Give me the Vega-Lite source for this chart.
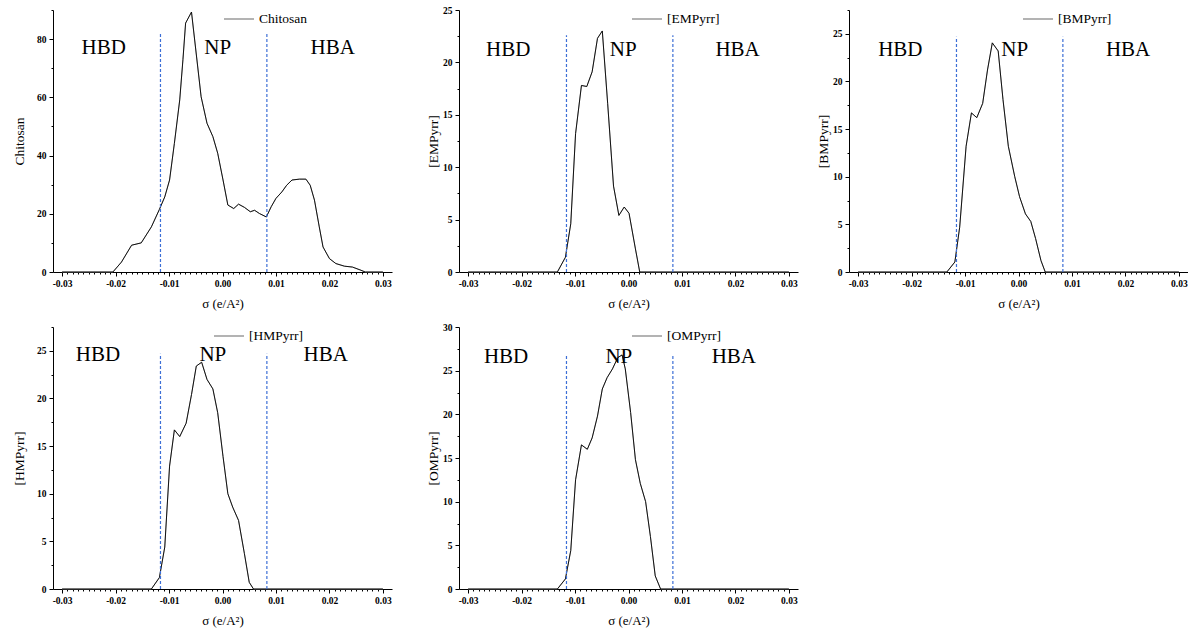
{
  "$schema": "https://vega.github.io/schema/vega-lite/v6.json",
  "padding": {"left": 12, "top": 3, "right": 0, "bottom": 0},
  "datasets": {
    "profiles": [
      {"series": "Chitosan", "sigma": -0.03, "value": 0},
      {"series": "Chitosan", "sigma": -0.0205, "value": 0},
      {"series": "Chitosan", "sigma": -0.0189, "value": 3.4},
      {"series": "Chitosan", "sigma": -0.017, "value": 9.2},
      {"series": "Chitosan", "sigma": -0.0152, "value": 10.0},
      {"series": "Chitosan", "sigma": -0.0133, "value": 15.5},
      {"series": "Chitosan", "sigma": -0.0118, "value": 21.5},
      {"series": "Chitosan", "sigma": -0.0108, "value": 25.8},
      {"series": "Chitosan", "sigma": -0.0099, "value": 31.6},
      {"series": "Chitosan", "sigma": -0.009, "value": 44.2},
      {"series": "Chitosan", "sigma": -0.008, "value": 59.1},
      {"series": "Chitosan", "sigma": -0.0074, "value": 72.9},
      {"series": "Chitosan", "sigma": -0.0069, "value": 85.5},
      {"series": "Chitosan", "sigma": -0.0058, "value": 89.3},
      {"series": "Chitosan", "sigma": -0.004, "value": 60.2},
      {"series": "Chitosan", "sigma": -0.0029, "value": 51.1},
      {"series": "Chitosan", "sigma": -0.0018, "value": 46.5},
      {"series": "Chitosan", "sigma": -0.0009, "value": 40.8},
      {"series": "Chitosan", "sigma": 0.0001, "value": 31.6},
      {"series": "Chitosan", "sigma": 0.001, "value": 23.0},
      {"series": "Chitosan", "sigma": 0.0021, "value": 21.8},
      {"series": "Chitosan", "sigma": 0.003, "value": 23.3},
      {"series": "Chitosan", "sigma": 0.0041, "value": 22.2},
      {"series": "Chitosan", "sigma": 0.0052, "value": 20.7},
      {"series": "Chitosan", "sigma": 0.006, "value": 21.2},
      {"series": "Chitosan", "sigma": 0.0069, "value": 20.1},
      {"series": "Chitosan", "sigma": 0.0082, "value": 18.9},
      {"series": "Chitosan", "sigma": 0.0091, "value": 22.4},
      {"series": "Chitosan", "sigma": 0.01, "value": 25.3},
      {"series": "Chitosan", "sigma": 0.0111, "value": 27.5},
      {"series": "Chitosan", "sigma": 0.012, "value": 29.8},
      {"series": "Chitosan", "sigma": 0.013, "value": 31.6},
      {"series": "Chitosan", "sigma": 0.0144, "value": 31.9},
      {"series": "Chitosan", "sigma": 0.0156, "value": 31.9},
      {"series": "Chitosan", "sigma": 0.0164, "value": 29.8},
      {"series": "Chitosan", "sigma": 0.0172, "value": 24.7},
      {"series": "Chitosan", "sigma": 0.0181, "value": 15.5},
      {"series": "Chitosan", "sigma": 0.0188, "value": 8.6},
      {"series": "Chitosan", "sigma": 0.02, "value": 4.6},
      {"series": "Chitosan", "sigma": 0.0212, "value": 2.9},
      {"series": "Chitosan", "sigma": 0.0228, "value": 2.0},
      {"series": "Chitosan", "sigma": 0.0243, "value": 1.7},
      {"series": "Chitosan", "sigma": 0.0259, "value": 0.6},
      {"series": "Chitosan", "sigma": 0.0267, "value": 0},
      {"series": "Chitosan", "sigma": 0.03, "value": 0},

      {"series": "[EMPyrr]", "sigma": -0.03, "value": 0},
      {"series": "[EMPyrr]", "sigma": -0.0133, "value": 0},
      {"series": "[EMPyrr]", "sigma": -0.0118, "value": 1.4},
      {"series": "[EMPyrr]", "sigma": -0.0108, "value": 4.6},
      {"series": "[EMPyrr]", "sigma": -0.0099, "value": 13.2},
      {"series": "[EMPyrr]", "sigma": -0.0088, "value": 17.8},
      {"series": "[EMPyrr]", "sigma": -0.0078, "value": 17.7},
      {"series": "[EMPyrr]", "sigma": -0.0068, "value": 19.1},
      {"series": "[EMPyrr]", "sigma": -0.0058, "value": 22.3},
      {"series": "[EMPyrr]", "sigma": -0.0049, "value": 23.0},
      {"series": "[EMPyrr]", "sigma": -0.0039, "value": 16.1},
      {"series": "[EMPyrr]", "sigma": -0.0028, "value": 8.2},
      {"series": "[EMPyrr]", "sigma": -0.0018, "value": 5.4},
      {"series": "[EMPyrr]", "sigma": -0.0008, "value": 6.2},
      {"series": "[EMPyrr]", "sigma": 0.0001, "value": 5.6},
      {"series": "[EMPyrr]", "sigma": 0.0013, "value": 2.2},
      {"series": "[EMPyrr]", "sigma": 0.0021, "value": 0},
      {"series": "[EMPyrr]", "sigma": 0.03, "value": 0},

      {"series": "[BMPyrr]", "sigma": -0.03, "value": 0},
      {"series": "[BMPyrr]", "sigma": -0.0134, "value": 0},
      {"series": "[BMPyrr]", "sigma": -0.0119, "value": 1.05},
      {"series": "[BMPyrr]", "sigma": -0.011, "value": 4.7},
      {"series": "[BMPyrr]", "sigma": -0.0098, "value": 13.2},
      {"series": "[BMPyrr]", "sigma": -0.0088, "value": 16.7},
      {"series": "[BMPyrr]", "sigma": -0.0078, "value": 16.2},
      {"series": "[BMPyrr]", "sigma": -0.0067, "value": 17.7},
      {"series": "[BMPyrr]", "sigma": -0.0058, "value": 21.2},
      {"series": "[BMPyrr]", "sigma": -0.0049, "value": 24.05},
      {"series": "[BMPyrr]", "sigma": -0.0038, "value": 23.2},
      {"series": "[BMPyrr]", "sigma": -0.0029, "value": 18.1},
      {"series": "[BMPyrr]", "sigma": -0.0019, "value": 13.2},
      {"series": "[BMPyrr]", "sigma": -0.0007, "value": 10.0},
      {"series": "[BMPyrr]", "sigma": 0.0002, "value": 7.9},
      {"series": "[BMPyrr]", "sigma": 0.0013, "value": 6.1},
      {"series": "[BMPyrr]", "sigma": 0.0023, "value": 5.3},
      {"series": "[BMPyrr]", "sigma": 0.0032, "value": 3.5},
      {"series": "[BMPyrr]", "sigma": 0.0042, "value": 1.2},
      {"series": "[BMPyrr]", "sigma": 0.005, "value": 0},
      {"series": "[BMPyrr]", "sigma": 0.03, "value": 0},

      {"series": "[HMPyrr]", "sigma": -0.03, "value": 0},
      {"series": "[HMPyrr]", "sigma": -0.0133, "value": 0},
      {"series": "[HMPyrr]", "sigma": -0.0118, "value": 1.2},
      {"series": "[HMPyrr]", "sigma": -0.0108, "value": 4.4},
      {"series": "[HMPyrr]", "sigma": -0.0099, "value": 12.9},
      {"series": "[HMPyrr]", "sigma": -0.009, "value": 16.7},
      {"series": "[HMPyrr]", "sigma": -0.008, "value": 16.0},
      {"series": "[HMPyrr]", "sigma": -0.0068, "value": 17.4},
      {"series": "[HMPyrr]", "sigma": -0.0058, "value": 20.4},
      {"series": "[HMPyrr]", "sigma": -0.0049, "value": 23.4},
      {"series": "[HMPyrr]", "sigma": -0.0039, "value": 23.8},
      {"series": "[HMPyrr]", "sigma": -0.0029, "value": 22.0},
      {"series": "[HMPyrr]", "sigma": -0.0018, "value": 21.0},
      {"series": "[HMPyrr]", "sigma": -0.0009, "value": 18.5},
      {"series": "[HMPyrr]", "sigma": 0.0001, "value": 13.9},
      {"series": "[HMPyrr]", "sigma": 0.001, "value": 10.0},
      {"series": "[HMPyrr]", "sigma": 0.0019, "value": 8.6},
      {"series": "[HMPyrr]", "sigma": 0.003, "value": 7.2},
      {"series": "[HMPyrr]", "sigma": 0.0041, "value": 3.7},
      {"series": "[HMPyrr]", "sigma": 0.005, "value": 0.7},
      {"series": "[HMPyrr]", "sigma": 0.0058, "value": 0},
      {"series": "[HMPyrr]", "sigma": 0.03, "value": 0},

      {"series": "[OMPyrr]", "sigma": -0.03, "value": 0},
      {"series": "[OMPyrr]", "sigma": -0.0133, "value": 0},
      {"series": "[OMPyrr]", "sigma": -0.0118, "value": 1.15},
      {"series": "[OMPyrr]", "sigma": -0.0108, "value": 4.4},
      {"series": "[OMPyrr]", "sigma": -0.0099, "value": 12.5},
      {"series": "[OMPyrr]", "sigma": -0.0088, "value": 16.5},
      {"series": "[OMPyrr]", "sigma": -0.0077, "value": 16.0},
      {"series": "[OMPyrr]", "sigma": -0.0068, "value": 17.3},
      {"series": "[OMPyrr]", "sigma": -0.0058, "value": 19.8},
      {"series": "[OMPyrr]", "sigma": -0.0049, "value": 22.9},
      {"series": "[OMPyrr]", "sigma": -0.004, "value": 24.2},
      {"series": "[OMPyrr]", "sigma": -0.003, "value": 25.2},
      {"series": "[OMPyrr]", "sigma": -0.002, "value": 26.5},
      {"series": "[OMPyrr]", "sigma": -0.0012, "value": 26.8},
      {"series": "[OMPyrr]", "sigma": -0.0006, "value": 25.2},
      {"series": "[OMPyrr]", "sigma": 0.0004, "value": 20.2},
      {"series": "[OMPyrr]", "sigma": 0.0013, "value": 14.8},
      {"series": "[OMPyrr]", "sigma": 0.0022, "value": 12.1},
      {"series": "[OMPyrr]", "sigma": 0.0032, "value": 10.0},
      {"series": "[OMPyrr]", "sigma": 0.0041, "value": 6.0},
      {"series": "[OMPyrr]", "sigma": 0.005, "value": 1.5},
      {"series": "[OMPyrr]", "sigma": 0.006, "value": 0},
      {"series": "[OMPyrr]", "sigma": 0.03, "value": 0}
    ],
    "cutoffs": [
      {"series": "Chitosan", "sigma": -0.0116, "bottom": 0, "top": 81.8},
      {"series": "Chitosan", "sigma": 0.0083, "bottom": 0, "top": 81.8},
      {"series": "[EMPyrr]", "sigma": -0.0116, "bottom": 0, "top": 22.6},
      {"series": "[EMPyrr]", "sigma": 0.0083, "bottom": 0, "top": 22.6},
      {"series": "[BMPyrr]", "sigma": -0.0116, "bottom": 0, "top": 24.7},
      {"series": "[BMPyrr]", "sigma": 0.0083, "bottom": 0, "top": 24.7},
      {"series": "[HMPyrr]", "sigma": -0.0116, "bottom": 0, "top": 24.7},
      {"series": "[HMPyrr]", "sigma": 0.0083, "bottom": 0, "top": 24.7},
      {"series": "[OMPyrr]", "sigma": -0.0116, "bottom": 0, "top": 26.9},
      {"series": "[OMPyrr]", "sigma": 0.0083, "bottom": 0, "top": 26.9}
    ],
    "regions": [
      {"series": "Chitosan", "label": "HBD", "sigma": -0.0222, "y": 76.9},
      {"series": "Chitosan", "label": "NP", "sigma": -0.0009, "y": 76.9},
      {"series": "Chitosan", "label": "HBA", "sigma": 0.0206, "y": 76.9},
      {"series": "[EMPyrr]", "label": "HBD", "sigma": -0.0225, "y": 21.2},
      {"series": "[EMPyrr]", "label": "NP", "sigma": -0.001, "y": 21.2},
      {"series": "[EMPyrr]", "label": "HBA", "sigma": 0.0204, "y": 21.2},
      {"series": "[BMPyrr]", "label": "HBD", "sigma": -0.0221, "y": 23.3},
      {"series": "[BMPyrr]", "label": "NP", "sigma": -0.0007, "y": 23.3},
      {"series": "[BMPyrr]", "label": "HBA", "sigma": 0.0205, "y": 23.3},
      {"series": "[HMPyrr]", "label": "HBD", "sigma": -0.0233, "y": 24.6},
      {"series": "[HMPyrr]", "label": "NP", "sigma": -0.0018, "y": 24.6},
      {"series": "[HMPyrr]", "label": "HBA", "sigma": 0.0193, "y": 24.6},
      {"series": "[OMPyrr]", "label": "HBD", "sigma": -0.0229, "y": 26.6},
      {"series": "[OMPyrr]", "label": "NP", "sigma": -0.0018, "y": 26.6},
      {"series": "[OMPyrr]", "label": "HBA", "sigma": 0.0197, "y": 26.6}
    ]
  },
  "config": {
    "view": {"stroke": null},
    "font": "Liberation Serif",
    "axis": {
      "domainColor": "#000000", "domainWidth": 1, "tickColor": "#000000", "tickWidth": 1, "tickSize": 4,
      "labelColor": "#000000", "titleColor": "#000000",
      "labelFont": "Liberation Serif", "labelFontSize": 9.5, "labelFontWeight": "bold",
      "titleFont": "Liberation Serif", "titleFontSize": 13.5, "titleFontWeight": "normal",
      "grid": false, "labelOverlap": false, "labelFlush": false, "labelBound": false
    },
    "axisX": {"titleFontSize": 13, "labelPadding": 2, "titlePadding": 10},
    "axisY": {"labelPadding": 3},
    "legend": {
      "labelFont": "Liberation Serif", "labelFontSize": 13.5, "labelColor": "#000000",
      "symbolType": "stroke", "symbolSize": 900, "symbolStrokeWidth": 1.5, "padding": 0, "labelOffset": 4
    },
    "text": {"font": "Liberation Serif", "fontSize": 21, "baseline": "middle", "align": "center", "color": "#000000"}
  },
  "resolve": {"scale": {"x": "independent", "y": "independent", "color": "independent"}},
  "spacing": 34,
  "hconcat": [
    {
      "spacing": 9,
      "resolve": {"scale": {"x": "independent", "y": "independent", "color": "independent"}},
      "vconcat": [
        {
          "width": 339, "height": 262,
          "resolve": {"axis": {"x": "independent", "y": "independent"}},
          "layer": [
            {
              "data": {"name": "profiles"},
              "transform": [{"filter": "datum.series === 'Chitosan'"}],
              "mark": {"type": "line", "strokeWidth": 0.9},
              "encoding": {
                "x": {"field": "sigma", "type": "quantitative", "title": "σ (e/A²)", "scale": {"domain": [-0.0317, 0.0317], "nice": false, "zero": false},
                  "axis": {"orient": "bottom", "values": [-0.03, -0.02, -0.01, 0, 0.01, 0.02, 0.03], "labelExpr": "replace(format(datum.value, '.2f'), '−', '-')"}},
                "y": {"field": "value", "type": "quantitative", "title": "Chitosan", "scale": {"domain": [0, 90], "nice": false},
                  "axis": {"orient": "left", "titlePadding": 10, "values": [0, 20, 40, 60, 80]}},
                "color": {"field": "series", "type": "nominal", "scale": {"range": ["#9a9a9a"]},
                  "legend": {"title": null, "orient": "none", "legendX": 170, "legendY": -7}}
              }
            },
            {
              "data": {"name": "profiles"},
              "transform": [{"filter": "datum.series === 'Chitosan'"}],
              "mark": {"type": "line", "strokeWidth": 0.9, "color": "#000000"},
              "encoding": {
                "x": {"field": "sigma", "type": "quantitative",
                  "axis": {"orient": "bottom", "title": null, "labels": false, "domain": false, "tickSize": 2, "values": [-0.03,-0.029,-0.028,-0.027,-0.026,-0.025,-0.024,-0.023,-0.022,-0.021,-0.02,-0.019,-0.018,-0.017,-0.016,-0.015,-0.014,-0.013,-0.012,-0.011,-0.01,-0.009,-0.008,-0.007,-0.006,-0.005,-0.004,-0.003,-0.002,-0.001,0,0.001,0.002,0.003,0.004,0.005,0.006,0.007,0.008,0.009,0.01,0.011,0.012,0.013,0.014,0.015,0.016,0.017,0.018,0.019,0.02,0.021,0.022,0.023,0.024,0.025,0.026,0.027,0.028,0.029,0.03]}},
                "y": {"field": "value", "type": "quantitative",
                  "axis": {"orient": "left", "title": null, "labels": false, "domain": false, "tickSize": 2, "values": [10, 30, 50, 70, 90]}}
              }
            },
            {
              "data": {"name": "cutoffs"},
              "transform": [{"filter": "datum.series === 'Chitosan'"}],
              "mark": {"type": "rule", "color": "#3d6fd6", "strokeWidth": 1.2, "strokeDash": [3, 2]},
              "encoding": {
                "x": {"field": "sigma", "type": "quantitative", "axis": null},
                "y": {"field": "bottom", "type": "quantitative", "axis": null},
                "y2": {"field": "top"}
              }
            },
            {
              "data": {"name": "regions"},
              "transform": [{"filter": "datum.series === 'Chitosan'"}],
              "mark": {"type": "text"},
              "encoding": {
                "x": {"field": "sigma", "type": "quantitative", "axis": null},
                "y": {"field": "y", "type": "quantitative", "axis": null},
                "text": {"field": "label", "type": "nominal"}
              }
            }
          ]
        },
        {
          "width": 339, "height": 262,
          "resolve": {"axis": {"x": "independent", "y": "independent"}},
          "layer": [
            {
              "data": {"name": "profiles"},
              "transform": [{"filter": "datum.series === '[HMPyrr]'"}],
              "mark": {"type": "line", "strokeWidth": 0.9},
              "encoding": {
                "x": {"field": "sigma", "type": "quantitative", "title": "σ (e/A²)", "scale": {"domain": [-0.0317, 0.0317], "nice": false, "zero": false},
                  "axis": {"orient": "bottom", "values": [-0.03, -0.02, -0.01, 0, 0.01, 0.02, 0.03], "labelExpr": "replace(format(datum.value, '.2f'), '−', '-')"}},
                "y": {"field": "value", "type": "quantitative", "title": "[HMPyrr]", "scale": {"domain": [0, 27.5], "nice": false},
                  "axis": {"orient": "left", "titlePadding": 10, "values": [0, 5, 10, 15, 20, 25]}},
                "color": {"field": "series", "type": "nominal", "scale": {"range": ["#9a9a9a"]},
                  "legend": {"title": null, "orient": "none", "legendX": 160, "legendY": -7}}
              }
            },
            {
              "data": {"name": "profiles"},
              "transform": [{"filter": "datum.series === '[HMPyrr]'"}],
              "mark": {"type": "line", "strokeWidth": 0.9, "color": "#000000"},
              "encoding": {
                "x": {"field": "sigma", "type": "quantitative",
                  "axis": {"orient": "bottom", "title": null, "labels": false, "domain": false, "tickSize": 2, "values": [-0.03,-0.029,-0.028,-0.027,-0.026,-0.025,-0.024,-0.023,-0.022,-0.021,-0.02,-0.019,-0.018,-0.017,-0.016,-0.015,-0.014,-0.013,-0.012,-0.011,-0.01,-0.009,-0.008,-0.007,-0.006,-0.005,-0.004,-0.003,-0.002,-0.001,0,0.001,0.002,0.003,0.004,0.005,0.006,0.007,0.008,0.009,0.01,0.011,0.012,0.013,0.014,0.015,0.016,0.017,0.018,0.019,0.02,0.021,0.022,0.023,0.024,0.025,0.026,0.027,0.028,0.029,0.03]}},
                "y": {"field": "value", "type": "quantitative",
                  "axis": {"orient": "left", "title": null, "labels": false, "domain": false, "tickSize": 2, "values": [2.5, 7.5, 12.5, 17.5, 22.5, 27.5]}}
              }
            },
            {
              "data": {"name": "cutoffs"},
              "transform": [{"filter": "datum.series === '[HMPyrr]'"}],
              "mark": {"type": "rule", "color": "#3d6fd6", "strokeWidth": 1.2, "strokeDash": [3, 2]},
              "encoding": {
                "x": {"field": "sigma", "type": "quantitative", "axis": null},
                "y": {"field": "bottom", "type": "quantitative", "axis": null},
                "y2": {"field": "top"}
              }
            },
            {
              "data": {"name": "regions"},
              "transform": [{"filter": "datum.series === '[HMPyrr]'"}],
              "mark": {"type": "text"},
              "encoding": {
                "x": {"field": "sigma", "type": "quantitative", "axis": null},
                "y": {"field": "y", "type": "quantitative", "axis": null},
                "text": {"field": "label", "type": "nominal"}
              }
            }
          ]
        }
      ]
    },
    {
      "spacing": 18,
      "resolve": {"scale": {"x": "independent", "y": "independent", "color": "independent"}},
      "hconcat": [
        {
          "spacing": 9,
          "resolve": {"scale": {"x": "independent", "y": "independent", "color": "independent"}},
          "vconcat": [
            {
              "width": 339, "height": 262,
              "resolve": {"axis": {"x": "independent", "y": "independent"}},
              "layer": [
                {
                  "data": {"name": "profiles"},
                  "transform": [{"filter": "datum.series === '[EMPyrr]'"}],
                  "mark": {"type": "line", "strokeWidth": 0.9},
                  "encoding": {
                    "x": {"field": "sigma", "type": "quantitative", "title": "σ (e/A²)", "scale": {"domain": [-0.0317, 0.0317], "nice": false, "zero": false},
                      "axis": {"orient": "bottom", "values": [-0.03, -0.02, -0.01, 0, 0.01, 0.02, 0.03], "labelExpr": "replace(format(datum.value, '.2f'), '−', '-')"}},
                    "y": {"field": "value", "type": "quantitative", "title": "[EMPyrr]", "scale": {"domain": [0, 25], "nice": false},
                      "axis": {"orient": "left", "titlePadding": 2, "values": [0, 5, 10, 15, 20, 25]}},
                    "color": {"field": "series", "type": "nominal", "scale": {"range": ["#9a9a9a"]},
                      "legend": {"title": null, "orient": "none", "legendX": 172, "legendY": -7}}
                  }
                },
                {
                  "data": {"name": "profiles"},
                  "transform": [{"filter": "datum.series === '[EMPyrr]'"}],
                  "mark": {"type": "line", "strokeWidth": 0.9, "color": "#000000"},
                  "encoding": {
                    "x": {"field": "sigma", "type": "quantitative",
                      "axis": {"orient": "bottom", "title": null, "labels": false, "domain": false, "tickSize": 2, "values": [-0.03,-0.029,-0.028,-0.027,-0.026,-0.025,-0.024,-0.023,-0.022,-0.021,-0.02,-0.019,-0.018,-0.017,-0.016,-0.015,-0.014,-0.013,-0.012,-0.011,-0.01,-0.009,-0.008,-0.007,-0.006,-0.005,-0.004,-0.003,-0.002,-0.001,0,0.001,0.002,0.003,0.004,0.005,0.006,0.007,0.008,0.009,0.01,0.011,0.012,0.013,0.014,0.015,0.016,0.017,0.018,0.019,0.02,0.021,0.022,0.023,0.024,0.025,0.026,0.027,0.028,0.029,0.03]}},
                    "y": {"field": "value", "type": "quantitative",
                      "axis": {"orient": "left", "title": null, "labels": false, "domain": false, "tickSize": 2, "values": [2.5, 7.5, 12.5, 17.5, 22.5]}}
                  }
                },
                {
                  "data": {"name": "cutoffs"},
                  "transform": [{"filter": "datum.series === '[EMPyrr]'"}],
                  "mark": {"type": "rule", "color": "#3d6fd6", "strokeWidth": 1.2, "strokeDash": [3, 2]},
                  "encoding": {
                    "x": {"field": "sigma", "type": "quantitative", "axis": null},
                    "y": {"field": "bottom", "type": "quantitative", "axis": null},
                    "y2": {"field": "top"}
                  }
                },
                {
                  "data": {"name": "regions"},
                  "transform": [{"filter": "datum.series === '[EMPyrr]'"}],
                  "mark": {"type": "text"},
                  "encoding": {
                    "x": {"field": "sigma", "type": "quantitative", "axis": null},
                    "y": {"field": "y", "type": "quantitative", "axis": null},
                    "text": {"field": "label", "type": "nominal"}
                  }
                }
              ]
            },
            {
              "width": 339, "height": 262,
              "resolve": {"axis": {"x": "independent", "y": "independent"}},
              "layer": [
                {
                  "data": {"name": "profiles"},
                  "transform": [{"filter": "datum.series === '[OMPyrr]'"}],
                  "mark": {"type": "line", "strokeWidth": 0.9},
                  "encoding": {
                    "x": {"field": "sigma", "type": "quantitative", "title": "σ (e/A²)", "scale": {"domain": [-0.0317, 0.0317], "nice": false, "zero": false},
                      "axis": {"orient": "bottom", "values": [-0.03, -0.02, -0.01, 0, 0.01, 0.02, 0.03], "labelExpr": "replace(format(datum.value, '.2f'), '−', '-')"}},
                    "y": {"field": "value", "type": "quantitative", "title": "[OMPyrr]", "scale": {"domain": [0, 30], "nice": false},
                      "axis": {"orient": "left", "titlePadding": 2, "values": [0, 5, 10, 15, 20, 25, 30]}},
                    "color": {"field": "series", "type": "nominal", "scale": {"range": ["#9a9a9a"]},
                      "legend": {"title": null, "orient": "none", "legendX": 172, "legendY": -7}}
                  }
                },
                {
                  "data": {"name": "profiles"},
                  "transform": [{"filter": "datum.series === '[OMPyrr]'"}],
                  "mark": {"type": "line", "strokeWidth": 0.9, "color": "#000000"},
                  "encoding": {
                    "x": {"field": "sigma", "type": "quantitative",
                      "axis": {"orient": "bottom", "title": null, "labels": false, "domain": false, "tickSize": 2, "values": [-0.03,-0.029,-0.028,-0.027,-0.026,-0.025,-0.024,-0.023,-0.022,-0.021,-0.02,-0.019,-0.018,-0.017,-0.016,-0.015,-0.014,-0.013,-0.012,-0.011,-0.01,-0.009,-0.008,-0.007,-0.006,-0.005,-0.004,-0.003,-0.002,-0.001,0,0.001,0.002,0.003,0.004,0.005,0.006,0.007,0.008,0.009,0.01,0.011,0.012,0.013,0.014,0.015,0.016,0.017,0.018,0.019,0.02,0.021,0.022,0.023,0.024,0.025,0.026,0.027,0.028,0.029,0.03]}},
                    "y": {"field": "value", "type": "quantitative",
                      "axis": {"orient": "left", "title": null, "labels": false, "domain": false, "tickSize": 2, "values": [2.5, 7.5, 12.5, 17.5, 22.5, 27.5]}}
                  }
                },
                {
                  "data": {"name": "cutoffs"},
                  "transform": [{"filter": "datum.series === '[OMPyrr]'"}],
                  "mark": {"type": "rule", "color": "#3d6fd6", "strokeWidth": 1.2, "strokeDash": [3, 2]},
                  "encoding": {
                    "x": {"field": "sigma", "type": "quantitative", "axis": null},
                    "y": {"field": "bottom", "type": "quantitative", "axis": null},
                    "y2": {"field": "top"}
                  }
                },
                {
                  "data": {"name": "regions"},
                  "transform": [{"filter": "datum.series === '[OMPyrr]'"}],
                  "mark": {"type": "text"},
                  "encoding": {
                    "x": {"field": "sigma", "type": "quantitative", "axis": null},
                    "y": {"field": "y", "type": "quantitative", "axis": null},
                    "text": {"field": "label", "type": "nominal"}
                  }
                }
              ]
            }
          ]
        },
        {
          "width": 339, "height": 262,
          "resolve": {"axis": {"x": "independent", "y": "independent"}},
          "layer": [
            {
              "data": {"name": "profiles"},
              "transform": [{"filter": "datum.series === '[BMPyrr]'"}],
              "mark": {"type": "line", "strokeWidth": 0.9},
              "encoding": {
                "x": {"field": "sigma", "type": "quantitative", "title": "σ (e/A²)", "scale": {"domain": [-0.0317, 0.0317], "nice": false, "zero": false},
                  "axis": {"orient": "bottom", "values": [-0.03, -0.02, -0.01, 0, 0.01, 0.02, 0.03], "labelExpr": "replace(format(datum.value, '.2f'), '−', '-')"}},
                "y": {"field": "value", "type": "quantitative", "title": "[BMPyrr]", "scale": {"domain": [0, 27.5], "nice": false},
                  "axis": {"orient": "left", "titlePadding": 2, "values": [0, 5, 10, 15, 20, 25]}},
                "color": {"field": "series", "type": "nominal", "scale": {"range": ["#9a9a9a"]},
                  "legend": {"title": null, "orient": "none", "legendX": 173, "legendY": -7}}
              }
            },
            {
              "data": {"name": "profiles"},
              "transform": [{"filter": "datum.series === '[BMPyrr]'"}],
              "mark": {"type": "line", "strokeWidth": 0.9, "color": "#000000"},
              "encoding": {
                "x": {"field": "sigma", "type": "quantitative",
                  "axis": {"orient": "bottom", "title": null, "labels": false, "domain": false, "tickSize": 2, "values": [-0.03,-0.029,-0.028,-0.027,-0.026,-0.025,-0.024,-0.023,-0.022,-0.021,-0.02,-0.019,-0.018,-0.017,-0.016,-0.015,-0.014,-0.013,-0.012,-0.011,-0.01,-0.009,-0.008,-0.007,-0.006,-0.005,-0.004,-0.003,-0.002,-0.001,0,0.001,0.002,0.003,0.004,0.005,0.006,0.007,0.008,0.009,0.01,0.011,0.012,0.013,0.014,0.015,0.016,0.017,0.018,0.019,0.02,0.021,0.022,0.023,0.024,0.025,0.026,0.027,0.028,0.029,0.03]}},
                "y": {"field": "value", "type": "quantitative",
                  "axis": {"orient": "left", "title": null, "labels": false, "domain": false, "tickSize": 2, "values": [2.5, 7.5, 12.5, 17.5, 22.5, 27.5]}}
              }
            },
            {
              "data": {"name": "cutoffs"},
              "transform": [{"filter": "datum.series === '[BMPyrr]'"}],
              "mark": {"type": "rule", "color": "#3d6fd6", "strokeWidth": 1.2, "strokeDash": [3, 2]},
              "encoding": {
                "x": {"field": "sigma", "type": "quantitative", "axis": null},
                "y": {"field": "bottom", "type": "quantitative", "axis": null},
                "y2": {"field": "top"}
              }
            },
            {
              "data": {"name": "regions"},
              "transform": [{"filter": "datum.series === '[BMPyrr]'"}],
              "mark": {"type": "text"},
              "encoding": {
                "x": {"field": "sigma", "type": "quantitative", "axis": null},
                "y": {"field": "y", "type": "quantitative", "axis": null},
                "text": {"field": "label", "type": "nominal"}
              }
            }
          ]
        }
      ]
    }
  ]
}
